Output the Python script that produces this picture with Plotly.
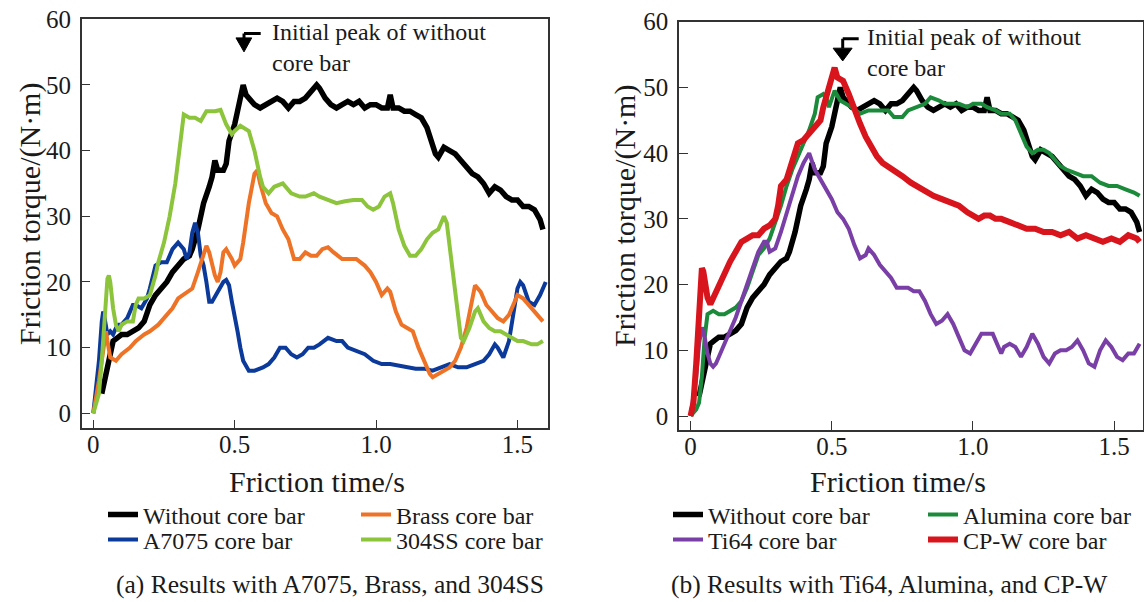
import plotly.graph_objects as go

# ---------------- data ----------------
# Without core bar (same series in both panels)
t_without = [0.03, 0.045, 0.06, 0.07, 0.085, 0.10, 0.12, 0.14, 0.16, 0.18, 0.20, 0.22, 0.24, 0.26, 0.28, 0.30, 0.32, 0.34, 0.35, 0.37,
             0.39, 0.41, 0.42, 0.43, 0.44, 0.46, 0.47, 0.48, 0.50, 0.51, 0.52, 0.53, 0.54, 0.55, 0.57, 0.59, 0.61, 0.63, 0.65, 0.67,
             0.69, 0.71, 0.73, 0.75, 0.77, 0.79, 0.80, 0.82, 0.84, 0.86, 0.88, 0.90, 0.92, 0.94, 0.96, 0.98, 1.00, 1.02, 1.04, 1.05,
             1.06, 1.08, 1.10, 1.12, 1.14, 1.16, 1.18, 1.20, 1.21, 1.22, 1.24, 1.26, 1.28, 1.30, 1.32, 1.34, 1.36, 1.38, 1.40, 1.42,
             1.44, 1.46, 1.48, 1.50, 1.52, 1.54, 1.56, 1.58, 1.59]
v_without = [3, 6, 9.5, 11, 11.5, 12, 12, 12.5, 13, 14, 16.5, 18, 19, 20, 21.5, 22.5, 23.5, 24, 25, 28,
             32, 34.5, 36, 38.5, 37, 37, 38, 41.5, 44, 46, 48, 50, 48.5, 48, 47, 46.5, 47, 47.5, 48, 47.5,
             46.5, 47.5, 47.5, 48, 49, 50, 49.5, 48, 47, 46.5, 47, 47.5, 47, 47.5, 46.5, 47, 47, 46.5, 46.5, 48.5,
             46.5, 46.5, 46, 46, 45.5, 45, 43.5, 41, 39.5, 39, 40.5, 40, 39.5, 38.5, 37.5, 36.5, 36, 35, 33.5, 34.5,
             34, 33, 32.5, 32.5, 31.5, 31.5, 31, 29.5, 28]

# Panel (a)
t_brass = [0, 0.02, 0.04, 0.045, 0.05, 0.06, 0.08, 0.10, 0.13, 0.15, 0.18, 0.20, 0.23, 0.25, 0.28, 0.30, 0.33, 0.35, 0.37, 0.39,
           0.40, 0.41, 0.43, 0.44, 0.45, 0.46, 0.47, 0.49, 0.50, 0.52, 0.53, 0.55, 0.57, 0.58, 0.59, 0.61, 0.63, 0.65, 0.67, 0.69,
           0.71, 0.73, 0.75, 0.77, 0.79, 0.81, 0.83, 0.85, 0.88, 0.91, 0.93, 0.96, 0.98, 1.00, 1.02, 1.04, 1.05, 1.07, 1.09, 1.11,
           1.13, 1.15, 1.17, 1.19, 1.20, 1.22, 1.24, 1.26, 1.28, 1.30, 1.32, 1.34, 1.35, 1.37, 1.39, 1.41, 1.43, 1.45, 1.47, 1.49,
           1.50, 1.52, 1.54, 1.56, 1.58, 1.59]
v_brass = [0, 5, 11, 12.5, 11, 8.5, 8, 9, 10, 11, 12, 12.5, 13.5, 14.5, 16, 17.5, 18.5, 19, 21.5, 24.5,
           25.5, 24.5, 21, 20, 21.5, 24.5, 25, 23.5, 22.5, 23.5, 26, 32, 36.5, 37, 35, 32, 30.5, 30, 28, 26.5,
           23.5, 23.5, 24.5, 24, 24, 25, 25.3, 24.5, 23.5, 23.5, 23.5, 22.5, 21.5, 20, 18, 19, 18.5, 15.5, 13.5, 13,
           12.5, 10, 8, 6, 5.5, 6, 6.5, 7, 8, 10, 13, 17, 19.5, 18.5, 16.5, 15.5, 14.5, 14, 15, 17,
           18, 17.5, 16.5, 15.5, 14.5, 14]

t_a7075 = [0, 0.02, 0.03, 0.035, 0.04, 0.05, 0.06, 0.07, 0.08, 0.09, 0.10, 0.12, 0.14, 0.15, 0.17, 0.19, 0.20, 0.22, 0.24, 0.26,
           0.28, 0.30, 0.32, 0.33, 0.34, 0.35, 0.36, 0.37, 0.38, 0.39, 0.40, 0.41, 0.42, 0.44, 0.46, 0.47, 0.48, 0.49, 0.50, 0.51,
           0.52, 0.53, 0.55, 0.57, 0.60, 0.62, 0.64, 0.66, 0.68, 0.70, 0.72, 0.74, 0.76, 0.78, 0.80, 0.83, 0.86, 0.88, 0.90, 0.93,
           0.96, 0.99, 1.02, 1.05, 1.08, 1.11, 1.14, 1.17, 1.20, 1.23, 1.26, 1.29, 1.32, 1.35, 1.38, 1.40, 1.42, 1.43, 1.45, 1.47,
           1.49, 1.50, 1.51, 1.52, 1.54, 1.56, 1.58, 1.60]
v_a7075 = [0, 8, 14, 15.5, 14.5, 12, 12.5, 12, 13, 13.5, 13.5, 14.5, 16.5, 16.5, 16, 17.5, 19, 22.5, 23, 23,
           25, 26, 25, 23.5, 24.5, 27.5, 29, 27.5, 24, 22.5, 20, 17, 17, 18.5, 20, 20.3, 19.5, 17, 15, 12.5,
           10, 8, 6.5, 6.5, 7, 7.5, 8.5, 10, 10, 9, 8.5, 9, 10, 10, 10.5, 11.5, 11, 11, 10, 9.5,
           9, 8, 7.5, 7.5, 7.3, 7, 6.8, 6.8, 6.5, 7, 7.5, 7, 7, 7.5, 8, 9, 10.5, 10, 8.5, 11,
           16, 19, 20, 19.5, 17, 16.5, 18, 20]

t_304ss = [0, 0.02, 0.03, 0.04, 0.05, 0.055, 0.06, 0.07, 0.08, 0.09, 0.10, 0.12, 0.14, 0.15, 0.16, 0.18, 0.20, 0.22, 0.23, 0.25,
           0.27, 0.29, 0.31, 0.32, 0.34, 0.36, 0.38, 0.40, 0.43, 0.45, 0.47, 0.49, 0.50, 0.52, 0.55, 0.57, 0.59, 0.60, 0.62, 0.64,
           0.67, 0.70, 0.73, 0.75, 0.78, 0.80, 0.83, 0.86, 0.89, 0.92, 0.95, 0.97, 0.99, 1.01, 1.03, 1.05, 1.06, 1.08, 1.10, 1.12,
           1.14, 1.16, 1.18, 1.20, 1.22, 1.24, 1.25, 1.27, 1.29, 1.30, 1.31, 1.33, 1.35, 1.36, 1.38, 1.40, 1.42, 1.44, 1.46, 1.48,
           1.50, 1.52, 1.55, 1.57, 1.59]
v_304ss = [0, 3, 8, 14, 20.5, 21, 20, 16, 13.5, 12.5, 13.5, 14, 14, 16.5, 17.5, 17.5, 18, 21, 23, 26,
           30, 35, 42, 45.5, 45, 45, 44.5, 46, 46, 46.2, 44, 42.5, 43, 43.8, 43, 40, 36, 34.5, 33.5, 34.5,
           35, 33.5, 33, 33, 33.5, 33, 32.5, 32, 32.3, 32.5, 32.5, 31.5, 31, 31.5, 33, 33.5, 32, 28, 25.5, 24,
           24, 25, 26.5, 27.5, 28, 30, 29, 22, 15, 11.5, 11, 13, 15.5, 16, 14, 13, 12.5, 12.5, 12, 11.5,
           11, 11, 10.5, 10.5, 11]

# Panel (b)
t_alumina = [0, 0.02, 0.03, 0.04, 0.05, 0.06, 0.08, 0.10, 0.12, 0.14, 0.16, 0.18, 0.20, 0.22, 0.24, 0.26, 0.28, 0.30, 0.32, 0.34,
             0.36, 0.38, 0.40, 0.42, 0.44, 0.45, 0.47, 0.48, 0.49, 0.50, 0.51, 0.53, 0.55, 0.57, 0.60, 0.63, 0.65, 0.68, 0.70, 0.72,
             0.75, 0.77, 0.80, 0.83, 0.85, 0.88, 0.90, 0.93, 0.95, 0.98, 1.00, 1.03, 1.05, 1.08, 1.10, 1.13, 1.15, 1.17, 1.19, 1.21,
             1.23, 1.25, 1.27, 1.29, 1.31, 1.33, 1.36, 1.39, 1.42, 1.45, 1.48, 1.51, 1.54, 1.57, 1.59]
v_alumina = [0, 1, 2, 6, 12, 15.5, 16, 15.5, 15.5, 16, 16.5, 17.5, 19.5, 22, 24.5, 25.5, 27, 29.5, 32, 35,
             37.5, 39.5, 41.5, 43.5, 46, 48.5, 49, 48.5, 47, 48.5, 49.5, 48, 47.5, 47, 46, 46.5, 46.5, 46.5, 46.5, 45.5,
             45.5, 46.5, 47, 47.5, 48.5, 48, 47.5, 47.5, 47.5, 47, 47.5, 47.5, 47, 46.5, 46, 46, 45, 43, 41, 40,
             40.5, 40.5, 40, 39, 38, 37.5, 37, 36.5, 36.5, 35.5, 35, 35, 34.5, 34, 33.5]

t_ti64 = [0, 0.02, 0.03, 0.04, 0.05, 0.06, 0.07, 0.08, 0.09, 0.10, 0.12, 0.14, 0.16, 0.18, 0.20, 0.22, 0.24, 0.26, 0.27, 0.28,
          0.30, 0.32, 0.34, 0.36, 0.38, 0.40, 0.42, 0.44, 0.46, 0.48, 0.50, 0.52, 0.54, 0.56, 0.58, 0.60, 0.62, 0.63, 0.65, 0.67,
          0.69, 0.71, 0.73, 0.75, 0.77, 0.79, 0.81, 0.83, 0.85, 0.87, 0.89, 0.91, 0.93, 0.95, 0.97, 0.99, 1.01, 1.03, 1.05, 1.07,
          1.09, 1.10, 1.11, 1.13, 1.15, 1.17, 1.19, 1.21, 1.23, 1.25, 1.27, 1.29, 1.31, 1.33, 1.35, 1.37, 1.39, 1.41, 1.43, 1.45,
          1.47, 1.49, 1.51, 1.53, 1.55, 1.57, 1.59]
v_ti64 = [0, 6, 11, 13.5, 12, 9.5, 8, 7.5, 8, 9, 11, 13, 15, 17.5, 20, 22.5, 25, 26.5, 26.5, 25,
          25.5, 28, 31, 34, 36.5, 38.5, 40, 37.5, 36, 34.5, 33, 31, 30, 28.5, 26, 24, 24.5, 25.5, 24.5, 23,
          22, 21, 19.5, 19.5, 19.5, 19, 19, 17.5, 15.5, 14, 14.5, 15.5, 14, 12, 10, 9.5, 11, 12.5, 12.5, 12.5,
          10.5, 9.5, 10.5, 11, 10.5, 9, 10.5, 12.5, 11, 9, 8, 9.5, 10, 10, 10.5, 11.5, 10, 8, 7.5, 10,
          11.5, 10.5, 9, 8.5, 9.5, 9.5, 11]

t_cpw = [0, 0.01, 0.02, 0.03, 0.035, 0.04, 0.045, 0.05, 0.06, 0.07, 0.08, 0.10, 0.12, 0.14, 0.16, 0.18, 0.20, 0.22, 0.24, 0.26,
         0.28, 0.30, 0.31, 0.32, 0.34, 0.36, 0.38, 0.40, 0.42, 0.44, 0.46, 0.47, 0.48, 0.50, 0.51, 0.52, 0.54, 0.56, 0.58, 0.60,
         0.62, 0.64, 0.66, 0.68, 0.70, 0.72, 0.75, 0.78, 0.80, 0.83, 0.86, 0.89, 0.92, 0.95, 0.98, 1.00, 1.02, 1.04, 1.06, 1.08,
         1.10, 1.13, 1.16, 1.19, 1.22, 1.25, 1.28, 1.31, 1.34, 1.37, 1.40, 1.43, 1.46, 1.49, 1.52, 1.55, 1.58, 1.59]
v_cpw = [0, 2, 8, 15, 20, 22.5, 22, 20, 18, 17, 18, 20, 21.5, 23.5, 25, 26.5, 27, 27.5, 27.5, 28.5,
         29, 30, 32, 35, 36, 39, 41.5, 42, 43, 44, 45, 47, 48.5, 52, 53, 51.5, 51, 49, 46.5, 44.5,
         42.5, 41, 39.5, 38.5, 38, 37.5, 36.5, 35.5, 35, 34, 33.5, 33, 32.5, 32, 31, 30.5, 30, 30.5, 30.5, 30,
         30, 29.5, 29, 28.5, 28.5, 28, 28, 27.5, 28, 27, 27.5, 27, 26.5, 27, 26.5, 27.5, 27, 26.5]

x_tick_vals = [0, 0.5, 1.0, 1.5]
x_tick_text = ["0", "0.5", "1.0", "1.5"]
y_tick_vals = [0, 10, 20, 30, 40, 50, 60]

# ---------------- styling ----------------
FONT = "Liberation Serif, Times New Roman, serif"
TXT = "#1a1a1a"
W, H = 1144, 602

def px(x):
    return x / W

def py(y):
    return 1 - y / H

fig = go.Figure()

def add_line(t, v, name, color, width, xa, ya, legend):
    fig.add_trace(go.Scatter(x=t, y=v, mode="lines", name=name,
                             line=dict(color=color, width=width),
                             xaxis=xa, yaxis=ya, legend=legend, showlegend=True))

# panel (a)
add_line(t_without, v_without, "Without core bar", "#000000", 5.5, "x", "y", "legend")
add_line(t_a7075, v_a7075, "A7075 core bar", "#0b3a9a", 4, "x", "y", "legend2")
add_line(t_brass, v_brass, "Brass core bar", "#ee7326", 4, "x", "y", "legend3")
add_line(t_304ss, v_304ss, "304SS core bar", "#8cc43c", 4, "x", "y", "legend4")
# panel (b)
add_line(t_without, v_without, "Without core bar", "#000000", 5.5, "x2", "y2", "legend5")
add_line(t_alumina, v_alumina, "Alumina core bar", "#1b8b3b", 4, "x2", "y2", "legend6")
add_line(t_ti64, v_ti64, "Ti64 core bar", "#7a3fa6", 4, "x2", "y2", "legend7")
add_line(t_cpw, v_cpw, "CP-W core bar", "#d8141c", 6, "x2", "y2", "legend8")

axis_common = dict(showgrid=False, zeroline=False, showline=True, mirror=True, automargin=False,
                   linecolor="#333333", linewidth=1.5, ticks="inside", ticklen=9,
                   tickwidth=1.3, tickcolor="#333333",
                   tickfont=dict(family=FONT, size=25, color=TXT))

layout = dict(
    template="none",
    width=W, height=H,
    margin=dict(l=0, r=0, t=0, b=0, pad=0, autoexpand=False),
    paper_bgcolor="white", plot_bgcolor="white",
    xaxis=dict(domain=[px(81.7), px(548)], range=[-0.041, 1.608], ticklabelstandoff=-7,
               tickvals=x_tick_vals, ticktext=x_tick_text, anchor="y", **axis_common),
    yaxis=dict(domain=[py(428.3), py(19.3)], range=[-2.28, 60.0], ticklabelstandoff=4,
               tickvals=y_tick_vals, anchor="x", **axis_common),
    xaxis2=dict(domain=[px(679), px(1143)], range=[-0.041, 1.602], ticklabelstandoff=-7,
                tickvals=x_tick_vals, ticktext=x_tick_text, anchor="y2", **axis_common),
    yaxis2=dict(domain=[py(430), py(21.7)], range=[-2.13, 60.0], ticklabelstandoff=4,
                tickvals=y_tick_vals, anchor="x2", **axis_common),
    showlegend=True,
)

# legends: one entry each, placed as a 2x2 grid under each panel
leg_pos = {
    "legend": (145, 515), "legend3": (398, 515), "legend2": (145, 540), "legend4": (398, 540),
    "legend5": (710, 515), "legend6": (965, 515), "legend7": (710, 540), "legend8": (965, 540),
}
for key, (xt, yc) in leg_pos.items():
    layout[key] = dict(x=px(xt - 42), y=py(yc), xanchor="left", yanchor="middle",
                       orientation="v", bgcolor="rgba(0,0,0,0)", borderwidth=0,
                       font=dict(family=FONT, size=24, color=TXT), itemwidth=30)

fig.update_layout(**layout)

def txt(x, y, s, size=24, angle=0, xanchor="center", align="center"):
    fig.add_annotation(x=px(x), y=py(y), xref="paper", yref="paper", text=s, showarrow=False,
                       textangle=angle, xanchor=xanchor, yanchor="middle", align=align,
                       font=dict(family=FONT, size=size, color=TXT))

# axis titles
txt(317, 481, "Friction time/s", size=30)
txt(898, 481, "Friction time/s", size=30)
txt(30, 214, "Friction torque/(N·m)", size=30, angle=-90)
txt(625, 216, "Friction torque/(N·m)", size=30, angle=-90)
# captions
txt(330, 584, "(a) Results with A7075, Brass, and 304SS", size=25.5)
txt(889, 584, "(b) Results with Ti64, Alumina, and CP-W", size=25.5)
# peak annotation text
txt(270, 48, "Initial peak of without<br>core bar", xanchor="left", align="left")
txt(865, 53, "Initial peak of without<br>core bar", xanchor="left", align="left")

# bent arrow markers
for xr, yr, tri, stem_x, top_y, tri_y, tip, hx in [
    ("x", "y", (0.5046, 0.5603), 0.533, 57.85, 57.17, 55.04, 0.592),
    ("x2", "y2", (0.5048, 0.572), 0.5387, 57.39, 55.97, 54.03, 0.5953),
]:
    fig.add_shape(type="path", xref=xr, yref=yr,
                  path=f"M {stem_x},{top_y} L {hx},{top_y} M {stem_x},{top_y} L {stem_x},{tri_y}",
                  line=dict(color="#000000", width=3))
    fig.add_shape(type="path", xref=xr, yref=yr,
                  path=f"M {tri[0]},{tri_y} L {tri[1]},{tri_y} L {stem_x},{tip} Z",
                  fillcolor="#000000", line=dict(color="#000000", width=1))

fig.write_html("out.html", config={"displayModeBar": False},
               post_script="document.body.style.margin='0';document.body.style.overflow='hidden';")
